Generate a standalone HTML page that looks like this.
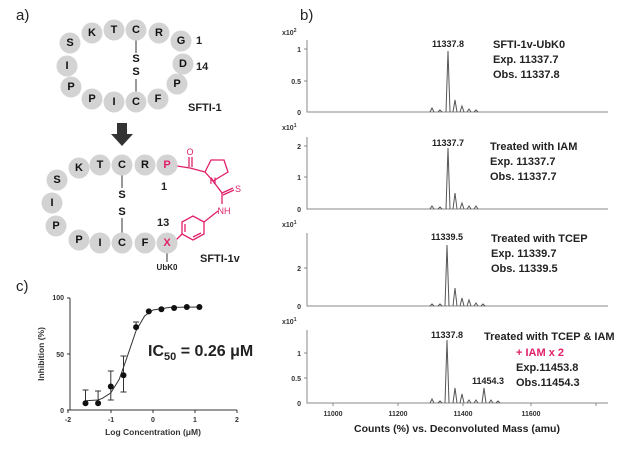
<!DOCTYPE html>
<html><head><meta charset="utf-8"><style>
html,body{margin:0;padding:0;background:#fff;}
svg{display:block;font-family:"Liberation Sans",sans-serif;}
.c{fill:#d3d3d3;}
.l{font-weight:bold;font-size:11px;text-anchor:middle;dominant-baseline:central;fill:#111;}
.p{fill:#e0206a;}
.t{font-weight:bold;font-size:11px;fill:#222;}
.ax{font-size:7px;font-weight:bold;fill:#333;}
</style></head><body>
<svg width="634" height="452" viewBox="0 0 634 452" xmlns="http://www.w3.org/2000/svg">
<text x="16" y="20" font-size="15" fill="#222">a)</text>
<text x="300" y="20" font-size="15" fill="#222">b)</text>
<text x="16" y="291" font-size="15" fill="#222">c)</text>

<!-- SFTI-1 top -->
<line x1="136" y1="40" x2="136" y2="93" stroke="#333" stroke-width="1"/>
<rect x="131" y="53" width="10" height="26" fill="#fff"/>
<text x="136" y="59" class="l" font-size="9">S</text>
<text x="136" y="72" class="l" font-size="9">S</text>
<g>
<circle class="c" cx="70" cy="43" r="10.5"/><circle class="c" cx="92" cy="33" r="10.5"/><circle class="c" cx="114" cy="30" r="10.5"/><circle class="c" cx="136" cy="30" r="10.5"/><circle class="c" cx="159" cy="33" r="10.5"/><circle class="c" cx="181" cy="41" r="10.5"/>
<circle class="c" cx="67" cy="66" r="10.5"/><circle class="c" cx="183" cy="64" r="10.5"/>
<circle class="c" cx="71" cy="87" r="10.5"/><circle class="c" cx="177" cy="84" r="10.5"/>
<circle class="c" cx="92" cy="99" r="10.5"/><circle class="c" cx="114" cy="102" r="10.5"/><circle class="c" cx="136" cy="102" r="10.5"/><circle class="c" cx="158" cy="99" r="10.5"/>
</g>
<text class="l" x="70" y="43">S</text><text class="l" x="92" y="33">K</text><text class="l" x="114" y="30">T</text><text class="l" x="136" y="30">C</text><text class="l" x="159" y="33">R</text><text class="l" x="181" y="41">G</text>
<text class="l" x="67" y="66">I</text><text class="l" x="183" y="64">D</text>
<text class="l" x="71" y="87">P</text><text class="l" x="177" y="84">P</text>
<text class="l" x="92" y="99">P</text><text class="l" x="114" y="102">I</text><text class="l" x="136" y="102">C</text><text class="l" x="158" y="99">F</text>
<text class="t" x="196" y="44">1</text><text class="t" x="196" y="70">14</text>
<text class="t" x="188" y="111">SFTI-1</text>

<!-- arrow -->
<path d="M117 123 H127 V134 H133 L122 146 L111 134 H117 Z" fill="#333"/>

<!-- SFTI-1v -->
<line x1="122" y1="175" x2="122" y2="233" stroke="#333"/>
<rect x="117" y="188" width="10" height="30" fill="#fff"/>
<text x="122" y="195" class="l" font-size="9">S</text>
<text x="122" y="212" class="l" font-size="9">S</text>
<line x1="167" y1="253" x2="167" y2="262" stroke="#333"/>
<g stroke="#e0206a" stroke-width="1.3" fill="none">
<path d="M177 166 L190 168 L205 172"/>
<path d="M189 167 L189 157 M192 167 L192 157"/>
<path d="M205 172 L211 160 L224 160 L228 172 L213 181 Z"/>
<path d="M213 181 L222 193 L222 204"/>
<path d="M222 193 L233 188 M223 195 L234 190"/>
<path d="M218 211 L204 222"/>
<path d="M204 222 L193 216 L182 222 L182 234 L193 240 L204 234 Z"/>
<path d="M185 224 L185 232 M193 237 L201 233"/>
<path d="M182 234 L175 241"/>
</g>
<text x="190" y="155" font-size="9" class="p" text-anchor="middle">O</text>
<text x="213" y="184" font-size="9" class="p" text-anchor="middle" font-weight="bold">N</text>
<text x="238" y="192" font-size="9" class="p" text-anchor="middle">S</text>
<text x="224" y="214" font-size="9" class="p" text-anchor="middle">NH</text>
<g>
<circle class="c" cx="57" cy="180" r="10.5"/><circle class="c" cx="79" cy="168" r="10.5"/><circle class="c" cx="100" cy="165" r="10.5"/><circle class="c" cx="122" cy="165" r="10.5"/><circle class="c" cx="145" cy="165" r="10.5"/><circle class="c" cx="167" cy="165" r="10.5"/>
<circle class="c" cx="52" cy="203" r="10.5"/><circle class="c" cx="56" cy="226" r="10.5"/>
<circle class="c" cx="79" cy="240" r="10.5"/><circle class="c" cx="100" cy="243" r="10.5"/><circle class="c" cx="122" cy="243" r="10.5"/><circle class="c" cx="145" cy="243" r="10.5"/><circle class="c" cx="167" cy="243" r="10.5"/>
</g>
<text class="l" x="57" y="180">S</text><text class="l" x="79" y="168">K</text><text class="l" x="100" y="165">T</text><text class="l" x="122" y="165">C</text><text class="l" x="145" y="165">R</text><text class="l p" x="167" y="165">P</text>
<text class="l" x="52" y="203">I</text><text class="l" x="56" y="226">P</text>
<text class="l" x="79" y="240">P</text><text class="l" x="100" y="243">I</text><text class="l" x="122" y="243">C</text><text class="l" x="145" y="243">F</text><text class="l p" x="167" y="243">X</text>
<text class="t" x="161" y="190">1</text><text class="t" x="157" y="226">13</text>
<text x="167" y="270" font-size="8" font-weight="bold" fill="#222" text-anchor="middle">UbK0</text>
<text class="t" x="200" y="262">SFTI-1v</text>

<!-- panel c -->
<g stroke="#333" stroke-width="1" fill="none">
<path d="M70 298 V410 H237"/>
<path d="M67 298 H70 M67 354 H70 M67 410 H70 M68 410 V413 M111 410 V413 M153 410 V413 M195 410 V413 M237 410 V413"/>
<path d="M85.5 400.8 L98 400 L102.4 398.3 L110.8 392.9 L119.2 379.4 L127.7 355.3 L136.1 330.6 L144.6 316 L153 310 L169.9 307.4 L199.4 307"/>
<path d="M85.5 403 V390 M82.5 390 H88.5 M98.1 403 V391 M95 391 H101 M110.8 386 V400 M110.8 386 V371 M107.8 371 H113.8 M107.8 400 H113.8 M123.5 375 V356 M120.5 356 H126.5 M123.5 375 V392 M120.5 392 H126.5 M136.1 327 V322 M133 322 H139"/>
</g>
<g fill="#111">
<circle cx="85.5" cy="403.3" r="3"/><circle cx="98.1" cy="403.3" r="3"/><circle cx="110.8" cy="386.5" r="3"/><circle cx="123.5" cy="375.3" r="3"/><circle cx="136.1" cy="327.1" r="3"/><circle cx="148.8" cy="311.4" r="3"/><circle cx="161.4" cy="309.2" r="3"/><circle cx="174.1" cy="308" r="3"/><circle cx="186.8" cy="307" r="3"/><circle cx="199.4" cy="307" r="3"/>
</g>
<g class="ax" text-anchor="end"><text x="64" y="300">100</text><text x="64" y="357">50</text><text x="64" y="413">0</text></g>
<g class="ax" text-anchor="middle"><text x="68" y="422">-2</text><text x="111" y="422">-1</text><text x="153" y="422">0</text><text x="195" y="422">1</text><text x="237" y="422">2</text></g>
<text x="153" y="435" font-size="8.5" font-weight="bold" fill="#333" text-anchor="middle">Log Concentration (μM)</text>
<text transform="translate(44,354) rotate(-90)" font-size="8.5" font-weight="bold" fill="#333" text-anchor="middle">Inhibition (%)</text>
<text x="148" y="356" font-size="16" font-weight="bold" fill="#222">IC<tspan font-size="11" dy="4">50</tspan><tspan dy="-4"> = 0.26 μM</tspan></text>

<!-- panel b axes -->
<g stroke="#888" stroke-width="1" fill="none">
<path d="M307 40 V112 H608 M304 49 H307 M304 81 H307"/>
<path d="M307 137 V209 H608 M304 146 H307 M304 177 H307"/>
<path d="M307 233 V306 H608 M304 268 H307"/>
<path d="M307 330 V403 H608 M304 353 H307 M304 378 H307 M333 403 V406 M398 403 V406 M463 403 V406 M531 403 V406 M596 403 V406"/>
</g>
<g class="ax" text-anchor="end">
<text x="301" y="52">1</text><text x="301" y="84">0.5</text><text x="301" y="115">0</text>
<text x="301" y="149">2</text><text x="301" y="180">1</text><text x="301" y="212">0</text>
<text x="301" y="271">2</text><text x="301" y="309">0</text>
<text x="301" y="356">1</text><text x="301" y="381">0.5</text><text x="301" y="406">0</text>
</g>
<g class="ax"><text x="282" y="35">x10<tspan font-size="5" dy="-3">2</tspan></text><text x="282" y="130">x10<tspan font-size="5" dy="-3">1</tspan></text><text x="282" y="227">x10<tspan font-size="5" dy="-3">1</tspan></text><text x="282" y="324">x10<tspan font-size="5" dy="-3">1</tspan></text></g>
<g class="ax" text-anchor="middle"><text x="333" y="416">11000</text><text x="398" y="416">11200</text><text x="463" y="416">11400</text><text x="531" y="416">11600</text></g>
<text x="457" y="432" font-size="10.5" font-weight="bold" fill="#222" text-anchor="middle">Counts (%) vs. Deconvoluted Mass (amu)</text>

<!-- spectra peaks -->
<g stroke="#555" stroke-width="1" fill="none">
<path d="M430 112 L432 108 L434 112 M438 112 L440 110 L442 112 M446 112 L448 51 L450 112 M453 112 L455 100 L457 112 M460 112 L462 106 L464 112 M467 112 L469 109 L471 112 M474 112 L476 110 L478 112"/>
<path d="M430 209 L432 206 L434 209 M438 209 L440 207 L442 209 M446 209 L448 148 L450 209 M453 209 L455 193 L457 209 M460 209 L462 203 L464 209 M467 209 L469 206 L471 209 M474 209 L476 206 L478 209"/>
<path d="M430 306 L432 304 L434 306 M438 306 L440 304 L442 306 M445 306 L447 245 L449 306 M453 306 L455 288 L457 306 M460 306 L462 298 L464 306 M467 306 L469 300 L471 306 M474 306 L476 303 L478 306 M481 306 L483 304 L485 306"/>
<path d="M430 403 L432 399 L434 403 M438 403 L440 401 L442 403 M445 403 L447 340 L449 403 M453 403 L455 388 L457 403 M460 403 L462 394 L464 403 M467 403 L469 400 L471 403 M474 403 L476 400 L478 403 M482 403 L484 388 L486 403 M489 403 L491 400 L493 403 M496 403 L498 401 L500 403"/>
</g>
<g font-size="9" fill="#222" text-anchor="middle" font-weight="bold">
<text x="448" y="47">11337.8</text><text x="448" y="146">11337.7</text><text x="447" y="240">11339.5</text><text x="447" y="338">11337.8</text><text x="488" y="384">11454.3</text>
</g>
<g class="t">
<text x="493" y="48">SFTI-1v-UbK0</text><text x="493" y="63">Exp. 11337.7</text><text x="493" y="78">Obs. 11337.8</text>
<text x="490" y="150">Treated with IAM</text><text x="490" y="165">Exp. 11337.7</text><text x="490" y="180">Obs. 11337.7</text>
<text x="491" y="242">Treated with TCEP</text><text x="491" y="257">Exp. 11339.7</text><text x="491" y="272">Obs. 11339.5</text>
<text x="484" y="340">Treated with TCEP &amp; IAM</text><text x="516" y="356" class="p">+ IAM x 2</text><text x="516" y="371">Exp.11453.8</text><text x="516" y="386">Obs.11454.3</text>
</g>
</svg>
</body></html>
